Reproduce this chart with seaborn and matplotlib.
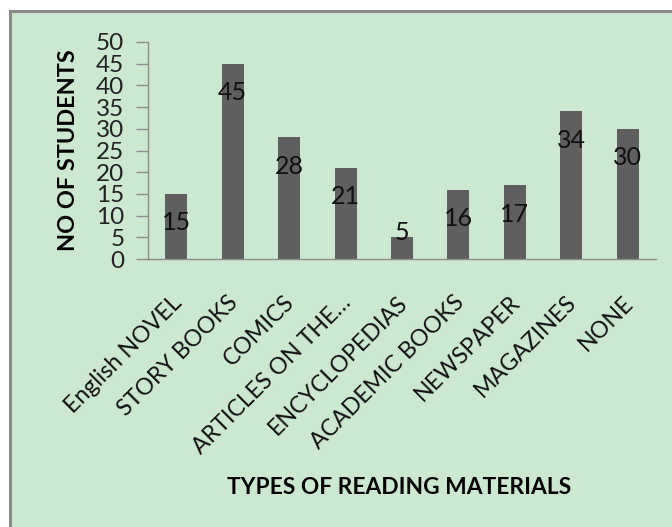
import matplotlib
matplotlib.use("Agg")
import matplotlib.pyplot as plt
from matplotlib.patches import Rectangle
from matplotlib.transforms import ScaledTranslation
import seaborn as sns
import pandas as pd

categories = ["English NOVEL", "STORY BOOKS", "COMICS", "ARTICLES ON THE…",
              "ENCYCLOPEDIAS", "ACADEMIC BOOKS", "NEWSPAPER", "MAGAZINES", "NONE"]
students = [15, 45, 28, 21, 5, 16, 17, 34, 30]
y_ticks = [0, 5, 10, 15, 20, 25, 30, 35, 40, 45, 50]

df = pd.DataFrame({"material": categories, "students": students})

sns.set_style("white")
plt.rcParams["font.family"] = ["Lato", "DejaVu Sans"]

BG = "#cde8d0"
BAR = "#5f5f5f"
AXIS = "#8c8c8c"

W, H = 672, 527
fig = plt.figure(figsize=(W / 100, H / 100), dpi=100, facecolor="white")

# chart area panel with grey frame
fig.patches.append(Rectangle((10 / W, -0.05), 1.1, (H - 11) / H + 0.05,
                             transform=fig.transFigure, facecolor=BG,
                             edgecolor="#8a8a8a", linewidth=2.2, zorder=-5))

ax = fig.add_axes([148 / W, (H - 259) / H, (656 - 148) / W, (259 - 42) / H])
ax.set_facecolor("none")

sns.barplot(data=df, x="material", y="students", color=BAR, width=0.39,
            saturation=1, ax=ax)
for p in ax.patches:
    p.set_edgecolor("none")

ax.set_xlim(-0.5, len(categories) - 0.5)
ax.set_ylim(0, 50)
ax.set_yticks(y_ticks)
ax.set_yticklabels([str(v) for v in y_ticks], fontsize=17.5, color="#222222")

ax.set_xticks(range(len(categories)))
ax.set_xticklabels(categories, rotation=45, ha="right", va="center",
                   rotation_mode="anchor", fontsize=16.7, color="#111111")
ax.tick_params(axis="x", which="major", length=0, pad=29)
shift = ScaledTranslation(2 / 100, 0, fig.dpi_scale_trans)
for lbl in ax.get_xticklabels():
    lbl.set_transform(lbl.get_transform() + shift)
ax.set_xticks([i - 0.5 for i in range(len(categories) + 1)], minor=True)
ax.tick_params(axis="x", which="minor", length=7, color=AXIS, width=1)
ax.tick_params(axis="y", length=9, color=AXIS, width=1, pad=8, left=True)

for s in ["top", "right"]:
    ax.spines[s].set_visible(False)
for s in ["left", "bottom"]:
    ax.spines[s].set_color(AXIS)
    ax.spines[s].set_linewidth(1)

# value labels just inside the top of each bar
for i, v in enumerate(students):
    ax.text(i, max(v - 6.7, 6.2), str(v), ha="center", va="center",
            fontsize=18, color="#111111")

ax.set_ylabel("NO OF STUDENTS", fontsize=16.9, fontweight="bold", labelpad=12,
              color="black")
fig.text(399 / W, 1 - 487 / H, "TYPES OF READING MATERIALS", ha="center",
         va="center", fontsize=16.4, fontweight="bold", color="black")
ax.set_xlabel("")

fig.savefig("out.png", dpi=100, facecolor="white")
